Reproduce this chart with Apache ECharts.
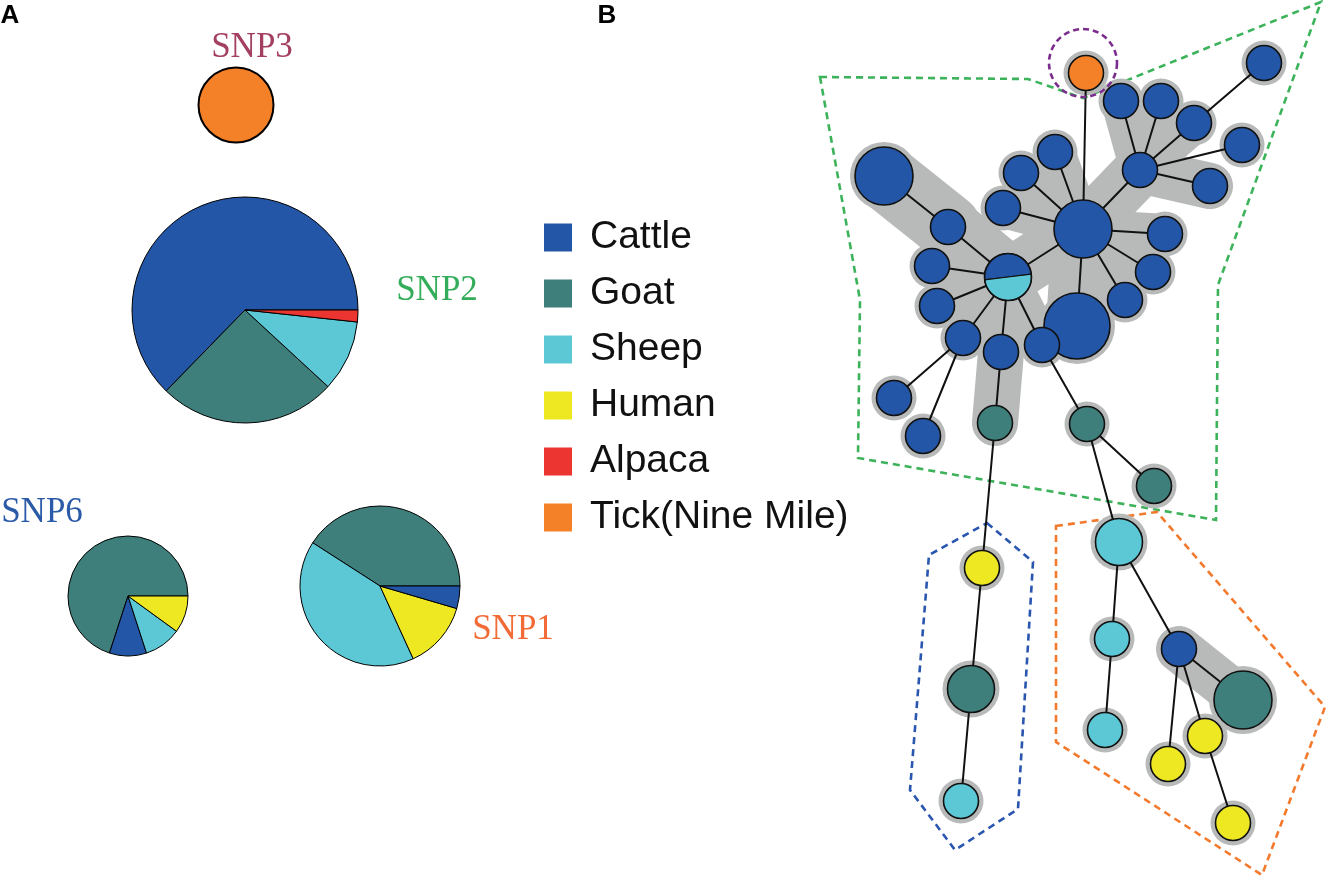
<!DOCTYPE html>
<html><head><meta charset="utf-8">
<script src="https://cdn.jsdelivr.net/npm/echarts@6/dist/echarts.min.js"></script>
<style>html,body{margin:0;padding:0;background:#fff}#c{width:1327px;height:879px}</style>
</head><body><div id="c"></div>
<script>
// ---------- hosts / legend ----------
const species = ['Cattle','Goat','Sheep','Human','Alpaca','Tick(Nine Mile)'];
const speciesColors = ['#2356a6','#3e7f7c','#5cc8d5','#eee823','#ec3430','#f48128'];

// ---------- Panel A: SNP genotypes (counts, counter-clockwise from east) ----------
const snpNames = ['SNP3','SNP2','SNP6','SNP1'];
const snp3Hosts = ['Tick(Nine Mile)'];             const snp3Counts = [1];
const snp2Hosts = ['Cattle','Goat','Sheep','Alpaca']; const snp2Counts = [37,15,6,1];
const snp6Hosts = ['Goat','Cattle','Sheep','Human'];  const snp6Counts = [7,1,1,1];
const snp1Hosts = ['Goat','Sheep','Human','Cattle'];  const snp1Counts = [9,9,3,1];

// ---------- Panel B: minimum spanning network ----------
const nodeNames = ['tick','a','b','c','d','e','f','g','h','i','j','k','l','m','n','o','big','o2','p','q','r1','r2','r3','r4','r5','r6','g1','g2','g3','y1','g4','s1','s2','s3','s4','c5','g5','y2','y3','y4'];
const nodeX = [1086,884,948,1083,1003,1021,1055,1140,1121,1161,1194,1264,1242,1210,1165,1153,1077,1125,1008,932,937,963,1001,1042,894,923,995,1087,1154,982,971,961,1119,1112,1105,1179,1243,1205,1168,1233];
const nodeY = [73,176,227,229,208,173,152,170,101,101,123,63,145,186,234,272,326,300,277,266,306,338,352,345,398,436,423,424,486,568,689,801,542,639,730,649,700,736,764,823];
const nodeSize = [1,3,1,3,1,1,1,1,1,1,1,1,1,1,1,1,4,1,2,1,1,1,1,1,1,1,1,1,1,1,2,1,2,1,1,1,3,1,1,1];
const nodeHosts = ['Tick(Nine Mile)','Cattle','Cattle','Cattle','Cattle','Cattle','Cattle','Cattle','Cattle','Cattle','Cattle','Cattle','Cattle','Cattle','Cattle','Cattle','Cattle','Cattle','Cattle|Sheep','Cattle','Cattle','Cattle','Cattle','Cattle','Cattle','Cattle','Goat','Goat','Goat','Human','Goat','Sheep','Sheep','Sheep','Sheep','Cattle','Goat','Human','Human','Human'];
const edgeFrom = ['tick','c','c','c','c','c','c','c','c','c','g','g','g','g','g','j','a','b','p','p','p','p','p','r2','r2','r3','r4','g2','g2','g1','y1','g4','s2','s3','s2','c5','c5','c5','y2'];
const edgeTo   = ['c','d','e','f','g','n','o','big','o2','p','h','i','j','l','m','k','b','p','q','r1','r2','r3','r4','r5','r6','g1','g2','g3','s2','y1','g4','s1','s3','s4','c5','g5','y3','y2','y4'];
const bandFrom  = ['a','b','p','p','p','p','p','r3','p','c','c','c','c','g','g','g','g','c','c','c','c','c5','r4'];
const bandTo    = ['b','p','q','r1','r2','r3','r4','g1','c','d','e','f','g','h','i','j','m','n','o','big','o2','g5','big'];
const bandWidth = [66,62,40,40,40,40,40,46,56,40,40,40,52,40,40,40,46,40,40,62,40,46,40];

// ---------- group outlines ----------
const groupColors = ['#3cb35a','#2a56b0','#f37a2d'];
const groupPolys = [
  [[820,77],[1028,79],[1083,98],[1321,2],[1218,285],[1216,520],[858,458],[860,300]],
  [[987,523],[1033,562],[1018,809],[955,850],[910,790],[929,555]],
  [[1056,526],[1157,512],[1325,707],[1262,875],[1056,742]]
];
const tickRing = [1083,63,34];

// ---------- build ----------
const hostColor = Object.fromEntries(species.map((s,i)=>[s,speciesColors[i]]));
const radiusBySize = [0,17.5,23.5,29,33];
const haloGrey = '#b8b9b9';
const idx = Object.fromEntries(nodeNames.map((n,i)=>[n,i]));

function pieSeries(name, hosts, counts, center, radius, bw){
  return {type:'pie', name, center, radius, startAngle:0, clockwise:false,
    data: hosts.map((h,i)=>({name:h, value:counts[i], itemStyle:{color:hostColor[h]}})),
    label:{show:false}, labelLine:{show:false},
    itemStyle:{borderColor:'#000', borderWidth:bw},
    emphasis:{disabled:true}, silent:true, animation:false, z:2};
}
function segData(from, to, extra){
  return from.map((f,i)=>[nodeX[idx[f]], nodeY[idx[f]], nodeX[idx[to[i]]], nodeY[idx[to[i]]], extra ? extra[i] : 0]);
}
function segRender(color, fixedW){
  return (params, api)=>{
    const p1 = api.coord([api.value(0), api.value(1)]);
    const p2 = api.coord([api.value(2), api.value(3)]);
    const w = fixedW || api.size([api.value(4),0])[0];
    return {type:'line', shape:{x1:p1[0],y1:p1[1],x2:p2[0],y2:p2[1]},
      style:{stroke:color, lineWidth:w, lineCap:'round'}};
  };
}
const nodeData = nodeNames.map((n,i)=>[nodeX[i], nodeY[i], nodeSize[i], i]);
function label(text, x, y, color){
  return {type:'text', x, y, style:{text, fontFamily:'Liberation Serif', fontSize:35, fill:color, align:'center', verticalAlign:'middle'}};
}

const option = {
  backgroundColor:'#fff',
  animation:false,
  grid:{left:0,right:0,top:0,bottom:0},
  xAxis:{type:'value',min:0,max:1327,show:false},
  yAxis:{type:'value',min:0,max:879,inverse:true,show:false},
  legend:{data:species, orient:'vertical', left:544, top:218, padding:0, itemWidth:28, itemHeight:28, itemGap:17,
    icon:'rect', selectedMode:false, itemStyle:{borderWidth:0},
    textStyle:{fontFamily:'Liberation Sans', fontSize:39, color:'#111', padding:[0,0,0,13]}},
  graphic:[
    {type:'text', x:10, y:16, style:{text:'A', fontFamily:'Liberation Sans', fontWeight:'bold', fontSize:26, fill:'#000', align:'center', verticalAlign:'middle'}},
    {type:'text', x:607, y:16, style:{text:'B', fontFamily:'Liberation Sans', fontWeight:'bold', fontSize:26, fill:'#000', align:'center', verticalAlign:'middle'}},
    label(snpNames[0], 252, 48, '#a33f60'),
    label(snpNames[1], 437, 291, '#34ad5a'),
    label(snpNames[2], 42, 513, '#2b5aa8'),
    label(snpNames[3], 513, 630, '#f26a36')
  ],
  series:[
    pieSeries(snpNames[0], snp3Hosts, snp3Counts, [236,105], 37.5, 2),
    pieSeries(snpNames[1], snp2Hosts, snp2Counts, [245,310], 113, 1),
    pieSeries(snpNames[2], snp6Hosts, snp6Counts, [128,596], 60, 1),
    pieSeries(snpNames[3], snp1Hosts, snp1Counts, [380,586], 80, 1),
    // group outlines
    {type:'custom', coordinateSystem:'cartesian2d', z:1, silent:true, data:groupPolys.map((p,i)=>[p[0][0],p[0][1],i]),
      renderItem:(params, api)=>{
        const k = api.value(2);
        const pts = groupPolys[k].map(v=>api.coord(v));
        return {type:'polygon', shape:{points:pts}, style:{fill:'none', stroke:groupColors[k], lineWidth:2.6, lineDash:[7,5]}};
      }},
    // grey bands
    {type:'custom', coordinateSystem:'cartesian2d', z:2, silent:true, data:segData(bandFrom,bandTo,bandWidth), renderItem:segRender(haloGrey)},
    // node halos
    {type:'custom', coordinateSystem:'cartesian2d', z:3, silent:true, data:nodeData,
      renderItem:(params, api)=>{
        const c = api.coord([api.value(0), api.value(1)]);
        const r = api.size([radiusBySize[api.value(2)]+5,0])[0];
        return {type:'circle', shape:{cx:c[0],cy:c[1],r}, style:{fill:haloGrey}};
      }},
    // edges
    {type:'custom', coordinateSystem:'cartesian2d', z:4, silent:true, data:segData(edgeFrom,edgeTo), renderItem:segRender('#111',2)},
    // tick ring
    {type:'custom', coordinateSystem:'cartesian2d', z:4, silent:true, data:[tickRing],
      renderItem:(params, api)=>{
        const c = api.coord([api.value(0), api.value(1)]);
        const r = api.size([api.value(2),0])[0];
        return {type:'circle', shape:{cx:c[0],cy:c[1],r}, style:{fill:'none', stroke:'#7b2d8e', lineWidth:2.6, lineDash:[6,4]}};
      }},
    // nodes
    {type:'custom', coordinateSystem:'cartesian2d', z:5, silent:true, data:nodeData,
      renderItem:(params, api)=>{
        const i = api.value(3);
        const c = api.coord([api.value(0), api.value(1)]);
        const r = api.size([radiusBySize[api.value(2)],0])[0];
        const hosts = nodeHosts[i].split('|');
        if (hosts.length === 1) {
          return {type:'circle', shape:{cx:c[0],cy:c[1],r}, style:{fill:hostColor[hosts[0]], stroke:'#111', lineWidth:1.6}};
        }
        const children = [];
        const span = 2*Math.PI/hosts.length;
        let a = 7*Math.PI/180;
        hosts.forEach(h=>{
          children.push({type:'sector', shape:{cx:c[0],cy:c[1],r0:0,r,startAngle:-(a+span),endAngle:-a},
            style:{fill:hostColor[h], stroke:'#111', lineWidth:1.2}});
          a += span;
        });
        children.push({type:'circle', shape:{cx:c[0],cy:c[1],r}, style:{fill:'none', stroke:'#111', lineWidth:1.6}});
        return {type:'group', children};
      }}
  ]
};
const chart = echarts.init(document.getElementById('c'));
chart.setOption(option);
</script></body></html>
